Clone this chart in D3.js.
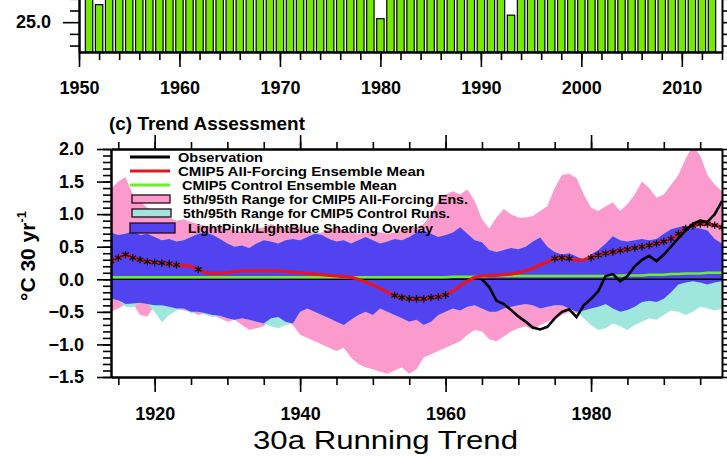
<!DOCTYPE html>
<html>
<head>
<meta charset="utf-8">
<script src="https://cdn.jsdelivr.net/npm/d3@7"></script>
<style>
  body { margin: 0; background: #fff; }
  svg { display: block; }
  text { font-family: "Liberation Sans", Arial, Helvetica, sans-serif; }
</style>
</head>
<body>
<div id="chart"></div>
<script>
// top panel: annual bars (only the bottom of the panel is in view)
let barYears = d3.range(1951, 2014);
let barValues = [
    25.42, 25.15, 25.38, 25.47, 25.33, 25.29, 25.51, 25.44, 25.36, 25.40,
    25.48, 25.35, 25.31, 25.45, 25.39, 25.52, 25.34, 25.37, 25.55, 25.43,
    25.30, 25.49, 25.41, 25.33, 25.38, 25.46, 25.58, 25.50, 25.42, 25.03,
    25.47, 25.39, 25.61, 25.44, 25.36, 25.52, 25.63, 25.57, 25.45, 25.49,
    25.54, 25.41, 25.06, 25.48, 25.66, 25.53, 25.59, 25.72, 25.55, 25.50,
    25.62, 25.58, 25.64, 25.69, 25.57, 25.61, 25.73, 25.66, 25.60, 25.68,
    25.75, 25.63, 25.70
];
let topXTicks = [1950, 1960, 1970, 1980, 1990, 2000, 2010];

// bottom panel (c): 30a running trend, one value per year 1914-1998
let years = d3.range(1914, 1999);
let pinkHi = [
    1.39, 1.50, 1.57, 1.30, 1.20, 1.10, 1.05, 1.00, 0.95, 0.90,
    0.92, 0.88, 0.85, 0.82, 0.80, 0.82, 0.78, 0.75, 0.72, 0.75,
    0.78, 0.80, 0.85, 0.80, 0.78, 0.82, 0.80, 0.75, 0.70, 0.72,
    0.78, 0.80, 0.75, 0.72, 0.70, 0.72, 0.75, 0.72, 0.70, 0.72,
    0.75, 0.78, 0.80, 0.85, 1.00, 1.20, 1.30, 1.35, 1.30, 1.38,
    1.20, 0.92, 0.78, 0.95, 1.08, 1.00, 0.95, 0.95, 0.97, 1.05,
    1.12, 1.40, 1.60, 1.62, 1.55, 1.30, 1.10, 1.05, 1.12, 1.18,
    1.05, 1.15, 1.30, 1.50, 1.40, 1.25, 1.30, 1.45, 1.60, 1.85,
    2.05, 1.90, 1.60, 1.45, 1.35
];
let pinkLo = [
    -0.50, -0.45, -0.38, -0.37, -0.55, -0.57, -0.40, -0.40, -0.42, -0.45,
    -0.48, -0.50, -0.55, -0.52, -0.55, -0.60, -0.65, -0.62, -0.70, -0.78,
    -0.75, -0.72, -0.60, -0.58, -0.65, -0.70, -0.85, -0.90, -0.95, -1.00,
    -1.05, -1.10, -1.05, -1.20, -1.30, -1.35, -1.38, -1.42, -1.45, -1.40,
    -1.35, -1.45, -1.38, -1.20, -1.15, -1.10, -1.05, -1.00, -0.95, -0.85,
    -0.78, -0.80, -0.92, -0.95, -0.88, -0.80, -0.75, -0.72, -0.78, -0.70,
    -0.65, -0.60, -0.55, -0.50, -0.52, -0.48, -0.45, -0.42, -0.38, -0.45,
    -0.50, -0.47, -0.42, -0.35, -0.33, -0.35, -0.30, -0.20, -0.08, -0.05,
    -0.03, -0.05, -0.08, -0.05, -0.03
];
let cyanHi = [
    0.72, 0.68, 0.70, 0.74, 0.68, 0.70, 0.65, 0.60, 0.62, 0.58,
    0.60, 0.65, 0.70, 0.72, 0.68, 0.62, 0.55, 0.50, 0.52, 0.48,
    0.55, 0.60, 0.58, 0.55, 0.60, 0.62, 0.60, 0.65, 0.72, 0.68,
    0.62, 0.58, 0.60, 0.55, 0.60, 0.65, 0.60, 0.55, 0.58, 0.62,
    0.60, 0.65, 0.72, 0.75, 0.70, 0.65, 0.68, 0.72, 0.80, 0.70,
    0.60, 0.57, 0.45, 0.42, 0.45, 0.48, 0.46, 0.50, 0.58, 0.64,
    0.50, 0.42, 0.38, 0.40, 0.35, 0.30, 0.38, 0.45, 0.55, 0.66,
    0.60, 0.58, 0.60, 0.62, 0.60, 0.62, 0.70, 0.77, 0.80, 0.82,
    0.80, 0.78, 0.75, 0.62, 0.55
];
let cyanLo = [
    -0.30, -0.32, -0.42, -0.43, -0.36, -0.38, -0.50, -0.66, -0.55, -0.48,
    -0.45, -0.52, -0.50, -0.55, -0.58, -0.56, -0.60, -0.62, -0.60, -0.62,
    -0.65, -0.68, -0.72, -0.75, -0.70, -0.68, -0.50, -0.45, -0.50, -0.55,
    -0.60, -0.65, -0.70, -0.62, -0.55, -0.50, -0.55, -0.45, -0.50, -0.55,
    -0.60, -0.65, -0.62, -0.70, -0.65, -0.55, -0.50, -0.45, -0.48, -0.42,
    -0.40, -0.45, -0.50, -0.50, -0.45, -0.42, -0.40, -0.38, -0.40, -0.45,
    -0.42, -0.40, -0.40, -0.45, -0.50, -0.60, -0.70, -0.78, -0.75, -0.68,
    -0.72, -0.78, -0.70, -0.65, -0.60, -0.62, -0.55, -0.48, -0.50, -0.55,
    -0.50, -0.42, -0.45, -0.48, -0.45
];
let allMean = [
    0.28, 0.33, 0.38, 0.33, 0.30, 0.27, 0.26, 0.25, 0.24, 0.22,
    0.21, 0.20, 0.15, 0.10, 0.09, 0.09, 0.10, 0.12, 0.13, 0.13,
    0.13, 0.13, 0.13, 0.13, 0.12, 0.11, 0.10, 0.09, 0.08, 0.07,
    0.06, 0.05, 0.04, 0.03, 0.00, -0.04, -0.09, -0.14, -0.20, -0.25,
    -0.28, -0.30, -0.30, -0.30, -0.28, -0.27, -0.24, -0.18, -0.10, -0.03,
    0.03, 0.05, 0.06, 0.06, 0.07, 0.08, 0.10, 0.13, 0.17, 0.22,
    0.27, 0.32, 0.33, 0.32, 0.29, 0.30, 0.33, 0.37, 0.40, 0.42,
    0.44, 0.46, 0.48, 0.50, 0.52, 0.55, 0.58, 0.62, 0.70, 0.78,
    0.82, 0.85, 0.85, 0.83, 0.80
];
let ctlMean = [
    0.03, 0.03, 0.03, 0.03, 0.03, 0.03, 0.03, 0.03, 0.03, 0.03,
    0.03, 0.03, 0.03, 0.03, 0.03, 0.03, 0.03, 0.03, 0.03, 0.03,
    0.03, 0.03, 0.03, 0.03, 0.03, 0.03, 0.03, 0.03, 0.03, 0.03,
    0.03, 0.03, 0.03, 0.03, 0.03, 0.03, 0.03, 0.03, 0.03, 0.03,
    0.03, 0.03, 0.03, 0.03, 0.03, 0.03, 0.03, 0.04, 0.04, 0.04,
    0.04, 0.04, 0.05, 0.05, 0.05, 0.05, 0.05, 0.05, 0.05, 0.05,
    0.05, 0.05, 0.05, 0.05, 0.05, 0.05, 0.05, 0.05, 0.05, 0.05,
    0.06, 0.06, 0.06, 0.06, 0.07, 0.07, 0.07, 0.08, 0.08, 0.09,
    0.09, 0.09, 0.10, 0.10, 0.10
];
let obsYears = d3.range(1965, 1999);
let obsTrend = [
    0.00, -0.12, -0.33, -0.38, -0.47, -0.57, -0.65, -0.74, -0.77, -0.73,
    -0.60, -0.50, -0.46, -0.58, -0.40, -0.30, -0.18, 0.05, 0.08, -0.03,
    0.05, 0.20, 0.30, 0.36, 0.28, 0.38, 0.50, 0.63, 0.75, 0.85,
    0.90, 0.88, 1.00, 1.20
];
let starYears = [
    1914, 1915, 1916, 1917, 1918, 1919, 1920, 1921, 1922, 1923, 1926,
    1953, 1954, 1955, 1956, 1957, 1958, 1959, 1960,
    1975, 1976, 1977,
    1980, 1981, 1982, 1983, 1984, 1985, 1986, 1987, 1988, 1989,
    1990, 1991, 1992, 1993, 1994, 1995, 1996, 1997, 1998
];
let yTicks = [-1.5, -1.0, -0.5, 0.0, 0.5, 1.0, 1.5, 2.0];
let xTicks = [1920, 1940, 1960, 1980];
let legendLabels = [
    "Observation",
    "CMIP5 All-Forcing Ensemble Mean",
    "CMIP5 Control Ensemble Mean",
    "5th/95th Range for CMIP5 All-Forcing Ens.",
    "5th/95th Range for CMIP5 Control Runs.",
    "LightPink/LightBlue Shading Overlay"
];

const PINK = "#FA9ACD";
const CYAN = "#9FE6DC";
const BLUE = "#5243F0";
const RED = "#E8141E";
const GREEN = "#6CEE2A";

function init() {
    const w = 727;
    const h = 458;

    var svg = d3.select("#chart")
        .append("svg")
        .attr("width", w)
        .attr("height", h);

    svg.append("rect").attr("width", w).attr("height", h).attr("fill", "#fff");

    drawTopPanel(svg);
    drawTrendPanel(svg);
}

function styleAxis(g, fontSize) {
    g.selectAll("path.domain").attr("stroke-width", 2);
    g.selectAll(".tick line").attr("stroke-width", 1.6);
    g.selectAll("text")
        .attr("font-size", fontSize)
        .attr("font-weight", "bold")
        .attr("font-family", "Liberation Sans, Arial, sans-serif")
        .attr("fill", "#000");
}

function drawTopPanel(svg) {
    var x = d3.scaleLinear().domain([1950, 2014]).range([79, 722]);
    var y = d3.scaleLinear().domain([24.745, 25.5]).range([52, -36.3]);

    svg.append("g")
        .selectAll("rect")
        .data(barYears)
        .enter()
        .append("rect")
        .attr("x", function (d) { return x(d) - 3.7; })
        .attr("width", 7.4)
        .attr("y", function (d, i) { return y(barValues[i]); })
        .attr("height", function (d, i) { return y(24.745) - y(barValues[i]); })
        .attr("fill", "#74EA00")
        .attr("stroke", "#000")
        .attr("stroke-width", 1.2);

    // x axis, minor ticks every 2 years then labelled majors
    var minorX = svg.append("g").attr("transform", "translate(0,52)")
        .call(d3.axisBottom(x).tickValues(d3.range(1950, 2015, 2)).tickSize(8).tickSizeOuter(0).tickFormat(""));
    styleAxis(minorX, 18);
    var majorX = svg.append("g").attr("transform", "translate(0,52)")
        .call(d3.axisBottom(x).tickValues(topXTicks).tickSize(15).tickSizeOuter(0).tickPadding(14).tickFormat(d3.format("d")));
    styleAxis(majorX, 18);

    var minorY = svg.append("g").attr("transform", "translate(79,0)")
        .call(d3.axisLeft(y).tickValues([24.8, 24.9, 25.1, 25.2, 25.3]).tickSize(9).tickSizeOuter(0).tickFormat(""));
    styleAxis(minorY, 18);
    var majorY = svg.append("g").attr("transform", "translate(79,0)")
        .call(d3.axisLeft(y).tickValues([25.0]).tickSize(16).tickSizeOuter(0).tickPadding(12).tickFormat(d3.format(".1f")));
    styleAxis(majorY, 18);

    var rightY = svg.append("g").attr("transform", "translate(722,0)")
        .call(d3.axisRight(y).tickValues([24.8, 24.9, 25.0, 25.1, 25.2, 25.3]).tickSize(7).tickSizeOuter(0).tickFormat(""));
    styleAxis(rightY, 18);
}

function drawTrendPanel(svg) {
    var x = d3.scaleLinear().domain([1914, 1998]).range([111, 722]);
    var y = d3.scaleLinear().domain([-1.5, 2.0]).range([377, 149]);

    svg.append("defs").append("clipPath").attr("id", "plotClip")
        .append("rect").attr("x", 111).attr("y", 149).attr("width", 611).attr("height", 228);

    var plot = svg.append("g").attr("clip-path", "url(#plotClip)");

    var rows = years.map(function (yr, i) {
        return {
            year: yr,
            pHi: pinkHi[i], pLo: pinkLo[i],
            cHi: cyanHi[i], cLo: cyanLo[i],
            all: allMean[i], ctl: ctlMean[i]
        };
    });

    var pinkArea = d3.area()
        .x(function (d) { return x(d.year); })
        .y0(function (d) { return y(d.pLo); })
        .y1(function (d) { return y(d.pHi); });
    var cyanArea = d3.area()
        .x(function (d) { return x(d.year); })
        .y0(function (d) { return y(d.cLo); })
        .y1(function (d) { return y(d.cHi); });
    // overlap of the two ranges
    var blueArea = d3.area()
        .x(function (d) { return x(d.year); })
        .y0(function (d) { return y(Math.max(d.pLo, d.cLo)); })
        .y1(function (d) { return y(Math.min(d.pHi, d.cHi)); });

    plot.append("path").datum(rows).attr("d", pinkArea).attr("fill", PINK);
    plot.append("path").datum(rows).attr("d", cyanArea).attr("fill", CYAN);
    plot.append("path").datum(rows).attr("d", blueArea).attr("fill", BLUE);

    // zero line
    plot.append("line")
        .attr("x1", 111).attr("x2", 722)
        .attr("y1", y(0)).attr("y2", y(0))
        .attr("stroke", "#000").attr("stroke-width", 1.6);

    var ctlLine = d3.line()
        .x(function (d) { return x(d.year); })
        .y(function (d) { return y(d.ctl); });
    plot.append("path").datum(rows).attr("d", ctlLine)
        .attr("fill", "none").attr("stroke", GREEN).attr("stroke-width", 2.5);

    var allLine = d3.line()
        .x(function (d) { return x(d.year); })
        .y(function (d) { return y(d.all); });
    plot.append("path").datum(rows).attr("d", allLine)
        .attr("fill", "none").attr("stroke", RED).attr("stroke-width", 3.2);

    // asterisks on the ensemble mean
    var r = 3.8;
    var star = "M0," + (-r) + "L0," + r +
        "M" + (-r * 0.87) + "," + (-r * 0.5) + "L" + (r * 0.87) + "," + (r * 0.5) +
        "M" + (-r * 0.87) + "," + (r * 0.5) + "L" + (r * 0.87) + "," + (-r * 0.5);
    plot.append("g")
        .selectAll("path")
        .data(starYears)
        .enter()
        .append("path")
        .attr("d", star)
        .attr("transform", function (d) {
            return "translate(" + x(d) + "," + y(allMean[years.indexOf(d)]) + ")";
        })
        .attr("fill", "none")
        .attr("stroke", "#111")
        .attr("stroke-width", 1.3);

    var obsLine = d3.line()
        .x(function (d, i) { return x(obsYears[i]); })
        .y(function (d) { return y(d); });
    plot.append("path").datum(obsTrend).attr("d", obsLine)
        .attr("fill", "none").attr("stroke", "#000").attr("stroke-width", 2.6);

    // axes: minor and major ticks on all four sides, pointing outwards
    var minorBottom = svg.append("g").attr("transform", "translate(0,377)")
        .call(d3.axisBottom(x).tickValues(d3.range(1915, 1999, 5)).tickSize(8).tickSizeOuter(0).tickFormat(""));
    styleAxis(minorBottom, 18);
    var majorBottom = svg.append("g").attr("transform", "translate(0,377)")
        .call(d3.axisBottom(x).tickValues(xTicks).tickSize(15).tickSizeOuter(0).tickPadding(15).tickFormat(d3.format("d")));
    styleAxis(majorBottom, 18);

    var minorTop = svg.append("g").attr("transform", "translate(0,149)")
        .call(d3.axisTop(x).tickValues(d3.range(1915, 1999, 5)).tickSize(7).tickSizeOuter(0).tickFormat(""));
    styleAxis(minorTop, 18);
    var majorTop = svg.append("g").attr("transform", "translate(0,149)")
        .call(d3.axisTop(x).tickValues(xTicks).tickSize(14).tickSizeOuter(0).tickFormat(""));
    styleAxis(majorTop, 18);

    var tenths = d3.range(-15, 21).map(function (v) { return v / 10; });
    var minorLeft = svg.append("g").attr("transform", "translate(111,0)")
        .call(d3.axisLeft(y).tickValues(tenths).tickSize(8).tickSizeOuter(0).tickFormat(""));
    styleAxis(minorLeft, 18);
    var majorLeft = svg.append("g").attr("transform", "translate(111,0)")
        .call(d3.axisLeft(y).tickValues(yTicks).tickSize(14).tickSizeOuter(0).tickPadding(13).tickFormat(d3.format(".1f")));
    styleAxis(majorLeft, 18);

    var minorRight = svg.append("g").attr("transform", "translate(722,0)")
        .call(d3.axisRight(y).tickValues(tenths).tickSize(7).tickSizeOuter(0).tickFormat(""));
    styleAxis(minorRight, 18);

    // titles
    svg.append("text")
        .attr("x", 109).attr("y", 130)
        .attr("font-size", 17.5)
        .attr("font-weight", "bold")
        .attr("textLength", 196)
        .attr("lengthAdjust", "spacingAndGlyphs")
        .text("(c) Trend Assessment");

    svg.append("text")
        .attr("x", 253).attr("y", 449)
        .attr("font-size", 25)
        .attr("textLength", 265)
        .attr("lengthAdjust", "spacingAndGlyphs")
        .text("30a Running Trend");

    var yTitle = svg.append("text")
        .attr("transform", "translate(35,256) rotate(-90)")
        .attr("text-anchor", "middle")
        .attr("font-size", 21)
        .attr("font-weight", "bold");
    yTitle.append("tspan").text("\u00B0C 30 yr");
    yTitle.append("tspan").attr("font-size", 13).attr("dy", -9).text("-1");

    drawLegend(svg);
}

function drawLegend(svg) {
    var rowY = [157, 171, 185, 199, 213, 228];
    var textX = [178, 178, 182, 183, 183, 188];
    var textW = [85, 247, 215, 285, 267, 245];
    var g = svg.append("g");

    var lineColors = ["#000", RED, GREEN];
    for (let i = 0; i < 3; i++) {
        g.append("line")
            .attr("x1", 130).attr("x2", 170)
            .attr("y1", rowY[i]).attr("y2", rowY[i])
            .attr("stroke", lineColors[i]).attr("stroke-width", 3);
    }
    var boxColors = [PINK, CYAN, BLUE];
    var boxW = [38, 39, 45];
    var boxH = [8, 8, 10];
    for (let i = 0; i < 3; i++) {
        g.append("rect")
            .attr("x", i === 2 ? 130 : 132)
            .attr("y", rowY[i + 3] - boxH[i] / 2)
            .attr("width", boxW[i]).attr("height", boxH[i])
            .attr("fill", boxColors[i])
            .attr("stroke", "#2a0a14").attr("stroke-width", 1.3);
    }
    for (let i = 0; i < legendLabels.length; i++) {
        g.append("text")
            .attr("x", textX[i]).attr("y", rowY[i] + 5)
            .attr("font-size", 13.5)
            .attr("font-weight", "bold")
            .attr("textLength", textW[i])
            .attr("lengthAdjust", "spacingAndGlyphs")
            .text(legendLabels[i]);
    }
}

window.onload = init;
</script>
</body>
</html>
